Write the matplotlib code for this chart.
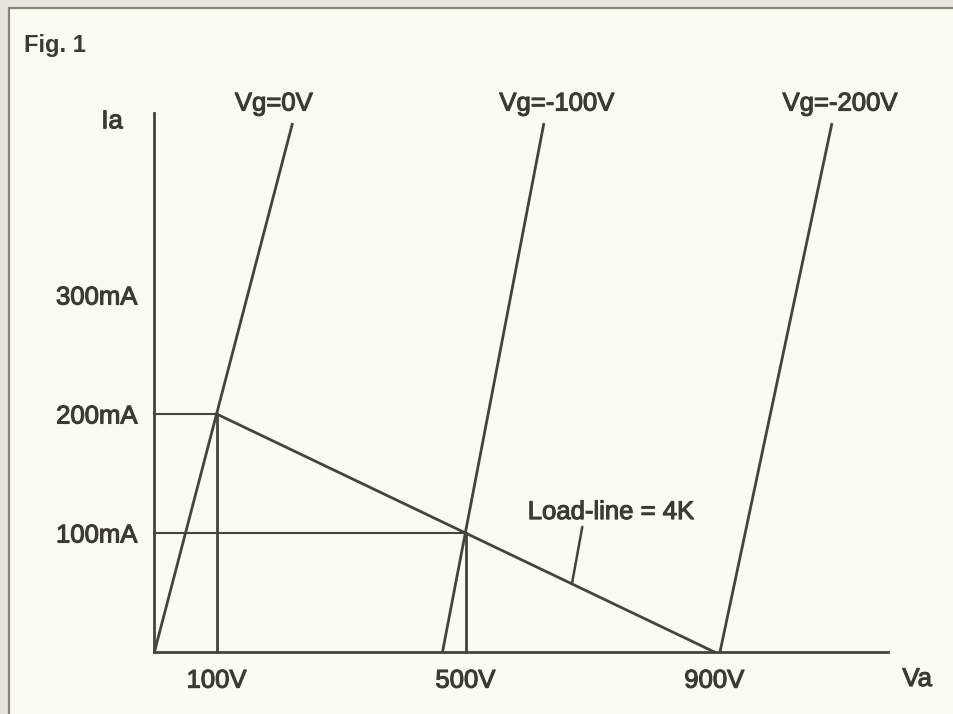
import matplotlib.pyplot as plt
import matplotlib.patheffects as pe
from matplotlib.patches import Rectangle

# Triode anode characteristics with a 4K load line
va_ticks = [100, 500, 900]            # V
va_tick_labels = ['100V', '500V', '900V']
ia_ticks = [100, 200, 300]            # mA
ia_tick_labels = ['100mA', '200mA', '300mA']

vg_labels = ['Vg=0V', 'Vg=-100V', 'Vg=-200V']
vg_va_bottom = [0, 463, 909]          # Va where each grid curve meets Ia=0
vg_va_top = [222, 626, 1089]          # Va at the top end of each curve
vg_ia_top = 444.5                     # mA
vg_label_va = [192, 647, 1102]        # where the curve names sit

load_va = [100, 900]
load_ia = [200, 0]
q_va = [100, 500]                     # operating points on the load line
q_ia = [200, 100]

ink = '#45443b'
txt = '#3b3a33'
paper = '#fbfcf1'
lw = 2.0
fs = 18.5
font = 'Liberation Sans'
heavy = [pe.withStroke(linewidth=0.8, foreground=txt)]   # slightly heavier print

fig = plt.figure(figsize=(9.54, 7.14), dpi=100)
fig.patch.set_facecolor('#e7e5db')
fig.patches.append(Rectangle((9/954, -0.05), 1, 1.05 - 8/714, transform=fig.transFigure,
                             facecolor=paper, edgecolor='#85857a', linewidth=1.6,
                             zorder=-10))

ax = fig.add_axes([0, 0, 1, 1])
ax.set_facecolor('none')
ax.set_xlim(-248.2, 1285.1)
ax.set_ylim(-52.1, 547.9)

for s in ['top', 'right']:
    ax.spines[s].set_visible(False)
ax.spines['left'].set_position(('data', 0))
ax.spines['bottom'].set_position(('data', 0))
ax.spines['left'].set_bounds(0, 453)
ax.spines['bottom'].set_bounds(0, 1179)
for s in ['left', 'bottom']:
    ax.spines[s].set_color(ink)
    ax.spines[s].set_linewidth(lw)

ax.set_xticks(va_ticks)
ax.set_xticklabels(va_tick_labels)
ax.set_yticks(ia_ticks)
ax.set_yticklabels(ia_tick_labels)
ax.tick_params(axis='both', length=0, labelsize=fs, labelcolor=txt)
ax.tick_params(axis='x', pad=12)
ax.tick_params(axis='y', pad=12)
for lab in ax.get_xticklabels() + ax.get_yticklabels():
    lab.set_family(font)
    lab.set_path_effects(heavy)

# grid voltage curves
for i in range(3):
    ax.plot([vg_va_bottom[i], vg_va_top[i]], [0, vg_ia_top], color=ink, lw=lw,
            solid_capstyle='butt')
    ax.text(vg_label_va[i], 455, vg_labels[i], ha='center', va='baseline',
            fontsize=fs, color=txt, family=font, path_effects=heavy)

# load line
ax.plot(load_va, load_ia, color=ink, lw=lw)

# projections of the operating points onto the axes
for v, i in zip(q_va, q_ia):
    ax.plot([0, v], [i, i], color=ink, lw=1.5)
    ax.plot([v, v], [0, i], color=ink, lw=lw)

ax.annotate('Load-line = 4K', xy=(671, 200*(900-671)/800), xytext=(600, 117.6),
            fontsize=fs, color=txt, family=font, ha='left', va='center',
            path_effects=heavy,
            arrowprops=dict(arrowstyle='-', color=ink, lw=1.8,
                            shrinkA=0, shrinkB=0, relpos=(0.33, 0)))

ax.text(-68, 446, 'Ia', ha='center', va='center', fontsize=fs, color=txt,
        family=font, path_effects=heavy)
ax.text(1226, -22.7, 'Va', ha='center', va='center', fontsize=fs, color=txt,
        family=font, path_effects=heavy)

fig.text(24/954, 1 - 52/714, 'Fig. 1', ha='left', va='baseline', fontsize=17,
         fontweight='bold', color=txt, family=font)

fig.savefig('out.png', dpi=100, facecolor=fig.get_facecolor())
